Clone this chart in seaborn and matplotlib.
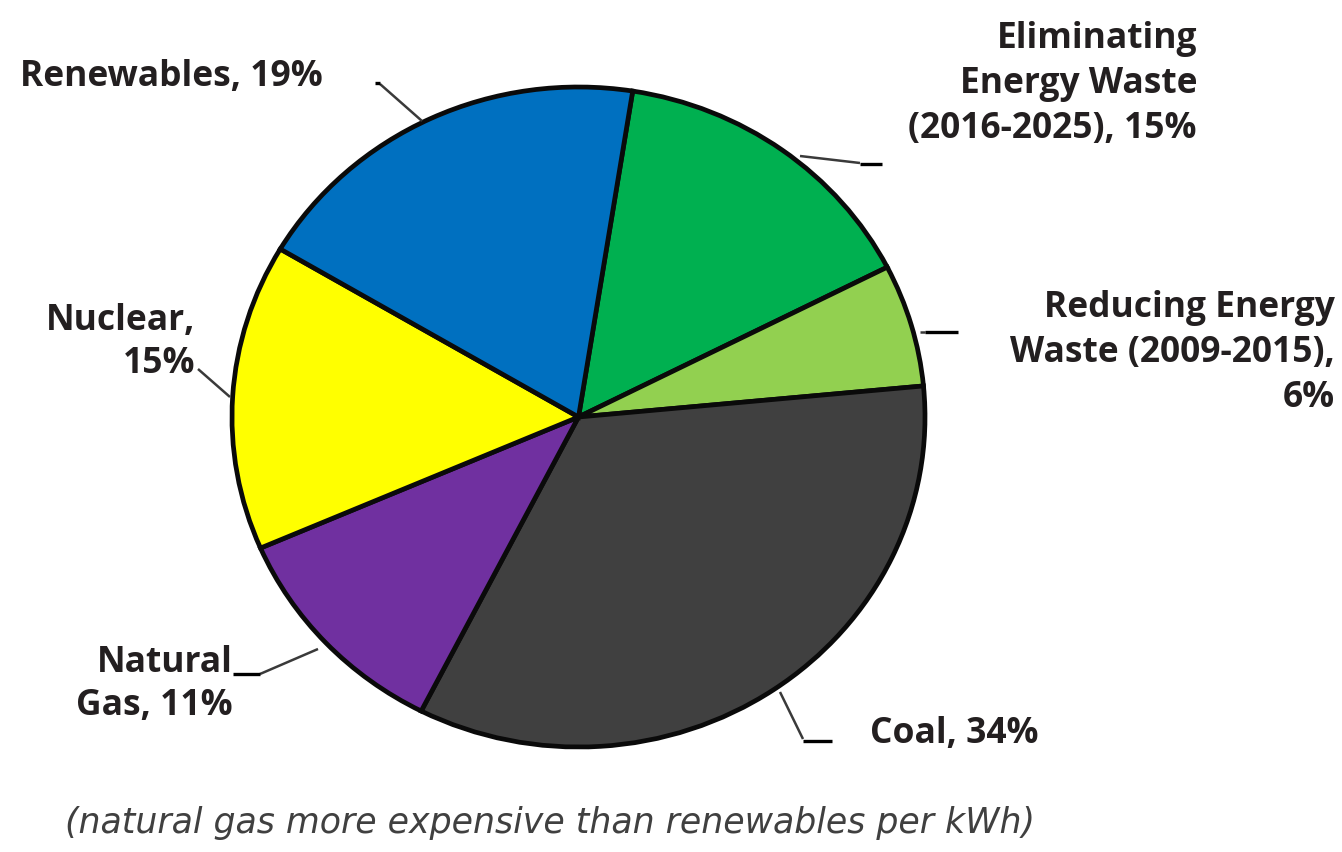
import matplotlib
matplotlib.use("Agg")
import matplotlib.pyplot as plt
import seaborn as sns

# ---- data ----
categories = ["Eliminating\nEnergy Waste\n(2016-2025)", "Reducing Energy\nWaste (2009-2015)",
              "Coal", "Natural\nGas", "Nuclear", "Renewables"]
shares = [15, 6, 34, 11, 15, 19]
label_texts = ["Eliminating\nEnergy Waste\n(2016-2025), 15%",
               "Reducing Energy\nWaste (2009-2015),\n6%",
               "Coal, 34%",
               "Natural\nGas, 11%",
               "Nuclear,\n15%",
               "Renewables, 19%"]
colors = ["#00B050", "#92D050", "#404040", "#7030A0", "#FFFF00", "#0070C0"]
caption = "(natural gas more expensive than renewables per kWh)"

sns.set_theme(style="white")
plt.rcParams["font.family"] = ["Open Sans", "DejaVu Sans"]

W, H = 1342, 853
fig = plt.figure(figsize=(W / 100, H / 100), dpi=100)

# pie axes (slightly elliptical as in the reference)
px0, px1, py0, py1 = 232, 925, 88, 748
pax = fig.add_axes([px0 / W, 1 - py1 / H, (px1 - px0) / W, (py1 - py0) / H])
pax.pie(shares, colors=colors, startangle=81, counterclock=False, radius=1,
        wedgeprops=dict(edgecolor="#0a0a0a", linewidth=3.4, joinstyle="miter"))
pax.set_xlim(-1, 1)
pax.set_ylim(-1, 1)
pax.set_aspect("auto")
pax.axis("off")

# overlay axes in pixel coordinates for labels and leader lines
ax = fig.add_axes([0, 0, 1, 1], facecolor="none")
ax.set_xlim(0, W)
ax.set_ylim(H, 0)
ax.axis("off")

txt_color = "#231F20"
fs = 25.5

# label placement: (x, first baseline y, ha)
placements = [
    (1197, 48, "right"),
    (1335, 317, "right"),
    (870, 743, "left"),
    (233, 672, "right"),
    (195, 330, "right"),
    (20, 86, "left"),
]
gaps = [45, 45, 45, 43, 43, 45]
for lab, (x, y, ha), g in zip(label_texts, placements, gaps):
    for i, line in enumerate(lab.split("\n")):
        ax.text(x, y + i * g, line, ha=ha, va="baseline", fontsize=fs,
                fontweight="bold", color=txt_color)

# leader lines: gray diagonal parts then short black ends
gray = "#3a3a3a"
leaders = [
    ([800, 860], [157, 164], [860, 882], [165, 165]),
    ([920, 925], [333, 333], [925, 958], [333, 333]),
    ([780, 803], [693, 740], [803, 832], [742, 742]),
    ([318, 260], [650, 675], [260, 233], [675, 675]),
    ([230, 198], [398, 370], [198, 198], [370, 370]),
    ([422, 380], [122, 85], [380, 375], [84, 84]),
]
for gx, gy, bx, by in leaders:
    ax.plot(gx, gy, color=gray, lw=1.8, solid_capstyle="butt")
    ax.plot(bx, by, color="black", lw=2.4, solid_capstyle="butt")

ax.text(550, 833, caption, ha="center", va="baseline", fontsize=25,
        fontstyle="italic", fontweight="normal", color="#404040",
        family=["DejaVu Sans"])

fig.savefig("out.png", dpi=100, facecolor="white")
